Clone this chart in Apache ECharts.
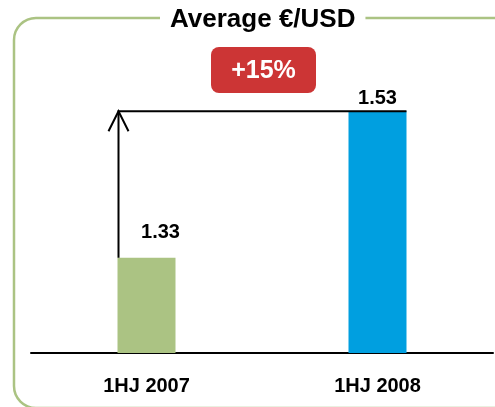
<!DOCTYPE html>
<html>
<head>
    <meta charset="UTF-8">
    <title>Average EUR/USD</title>
    <script src="https://cdn.jsdelivr.net/npm/echarts@6/dist/echarts.min.js"></script>
</head>
<body style="margin:0">
    <div id="chart" style="width:495px; height:407px;"></div>
    <script>
        var categories = ['1HJ 2007', '1HJ 2008'];
        var rates = [1.33, 1.53];
        var barColors = ['#abc383', '#009fe0'];

        var chart = echarts.init(document.getElementById('chart'), null, {renderer: 'canvas'});
        var barW = 58;
        var font = 'Liberation Sans, Arial, sans-serif';
        var change = '+' + Math.round((rates[1] / rates[0] - 1) * 100) + '%';

        var option = {
            animation: false,
            title: {
                text: 'Average €/USD',
                left: 160,
                top: 5,
                backgroundColor: '#fff',
                padding: [2, 10],
                textStyle: {fontFamily: font, fontWeight: 'bold', fontSize: 26, color: '#000'}
            },
            grid: {left: 31, right: 2, top: 60, bottom: 54},
            xAxis: {
                type: 'category',
                data: categories,
                axisLine: {lineStyle: {color: '#000', width: 2}},
                axisTick: {show: false},
                axisLabel: {margin: 23, fontFamily: font, fontWeight: 'bold', fontSize: 20, color: '#000'}
            },
            yAxis: {type: 'value', min: 1.2, max: 1.6, show: false},
            graphic: [
                {
                    type: 'rect', z: 0,
                    shape: {x: 14, y: 18, width: 520, height: 390, r: 22},
                    style: {fill: 'none', stroke: '#abc383', lineWidth: 2.5}
                },
                {
                    type: 'rect', z: 10,
                    shape: {x: 211, y: 47, width: 105, height: 46, r: 8},
                    style: {fill: '#cc3535'}
                },
                {
                    type: 'text', z: 11,
                    x: 263.5, y: 71,
                    style: {text: change, fill: '#fff', font: 'bold 25px ' + font, align: 'center', verticalAlign: 'middle'}
                }
            ],
            series: [
                {
                    type: 'bar',
                    barWidth: barW,
                    data: rates.map(function (v, i) {
                        return {
                            value: v,
                            itemStyle: {color: barColors[i]},
                            label: i === 0 ? {offset: [14, -12]} : {}
                        };
                    }),
                    label: {
                        show: true, position: 'top', distance: 3,
                        fontFamily: font, fontWeight: 'bold', fontSize: 20, color: '#000'
                    }
                },
                {
                    type: 'custom',
                    z: 5,
                    data: [[0, rates[0], 1, rates[1]]],
                    encode: {x: [0, 2], y: [1, 3]},
                    renderItem: function (params, api) {
                        var a = api.coord([api.value(0), api.value(1)]);
                        var b = api.coord([api.value(2), api.value(3)]);
                        var lx = a[0] - barW / 2 + 1;
                        var rx = b[0] + barW / 2;
                        var st = {stroke: '#000', lineWidth: 2, fill: 'none'};
                        return {
                            type: 'group',
                            children: [
                                {type: 'polyline', shape: {points: [[lx, a[1]], [lx, b[1]], [rx, b[1]]]}, style: st},
                                {type: 'polyline', shape: {points: [[lx - 10, b[1] + 20], [lx, b[1]], [lx + 10, b[1] + 20]]}, style: st}
                            ]
                        };
                    }
                }
            ]
        };
        chart.setOption(option);
    </script>
</body>
</html>
